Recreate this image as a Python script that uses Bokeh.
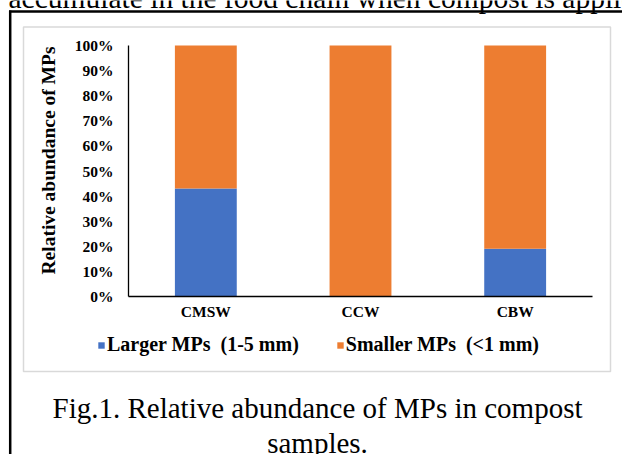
import math
from bokeh.plotting import figure
from bokeh.models import (Label, Legend, LegendItem, Range1d, LinearScale,
                          ColumnDataSource)
from bokeh.core.properties import value
from bokeh.embed import file_html
from bokeh.resources import INLINE

# ---- data ----
categories = ["CMSW", "CCW", "CBW"]
larger = [0.43, 0.0, 0.19]
smaller = [0.57, 1.0, 0.81]
y_ticks = [0, 0.1, 0.2, 0.3, 0.4, 0.5, 0.6, 0.7, 0.8, 0.9, 1.0]
y_tick_labels = ["0%", "10%", "20%", "30%", "40%", "50%", "60%", "70%", "80%", "90%", "100%"]
series_labels = ["Larger MPs  (1-5 mm)", "Smaller MPs  (<1 mm)"]
colors = ["#4472C4", "#ED7D31"]

y_title = "Relative abundance of MPs"
page_text = "accumulate in the food chain when compost is applied"
caption_1 = "Fig.1. Relative abundance of MPs in compost"
caption_2 = "samples."

# ---- page geometry (pixels from the top-left corner) ----
W, H = 622, 454
PLOT_L, PLOT_R, PLOT_T, PLOT_B = 128, 592, 45, 296
SERIF = "Liberation Serif"
MID = 0.3375  # distance (in em) from the "middle" anchor down to the baseline

# page figure: data units are page pixels, y downwards
p = figure(width=W, height=H, x_range=Range1d(0, W), y_range=Range1d(H, 0),
           output_backend="svg", toolbar_location=None, title=None,
           x_axis_location=None, y_axis_location=None, min_border=0)
p.xgrid.visible = False
p.ygrid.visible = False
p.outline_line_color = None
p.background_fill_color = "white"
p.border_fill_color = "white"

# document frame and chart box
p.segment(x0=[9.7], y0=[10], x1=[9.7], y1=[H], line_color="black", line_width=2.5)
p.segment(x0=[8.5], y0=[11], x1=[W], y1=[11], line_color="black", line_width=2.5)
p.quad(left=[23], right=[610], top=[26.5], bottom=[371], fill_alpha=0,
       line_color="#D9D9D9", line_width=1.5)

# chart coordinates: category slots [0, n] x value [0, 1] mapped into the plot area
n = len(categories)
xy = p.subplot(x_source=Range1d(0, n), y_source=Range1d(0, 1),
               x_scale=LinearScale(), y_scale=LinearScale(),
               x_target=Range1d(PLOT_L, PLOT_R), y_target=Range1d(PLOT_B, PLOT_T))

slot = [i + 0.5 for i in range(n)]
stack_top = [a + b for a, b in zip(larger, smaller)]
src = ColumnDataSource(dict(x=slot, cat=categories, larger=larger, top2=stack_top,
                            zero=[0] * n))
r_large = xy.vbar(x="x", bottom="zero", top="larger", width=0.4, source=src,
                  fill_color=colors[0], line_color=None)
r_small = xy.vbar(x="x", bottom="larger", top="top2", width=0.4, source=src,
                  fill_color=colors[1], line_color=None)

# axes
xy.segment(x0=[0], y0=[0], x1=[0], y1=[1], line_color="black", line_width=1.3)
xy.segment(x0=[0], y0=[0], x1=[n], y1=[0], line_color="black", line_width=1.3)
xy.text(x=[0] * len(y_ticks), y=y_ticks, text=y_tick_labels, x_offset=-15,
        text_align="right", text_baseline="middle", text_font=value(SERIF),
        text_font_style="bold", text_font_size="15.5px", text_color="black")
xy.text(x="x", y="zero", text="cat", source=src, y_offset=15,
        text_align="center", text_baseline="middle", text_font=value(SERIF),
        text_font_style="bold", text_font_size="15.5px", text_color="black")

# y axis title
p.add_layout(Label(x=48, y=160, text=y_title, angle=math.pi / 2,
                   text_align="center", text_baseline="middle",
                   text_font=SERIF, text_font_style="bold",
                   text_font_size="19.5px", text_color="black"))

# legend
legend = Legend(items=[LegendItem(label=series_labels[0], renderers=[r_large]),
                       LegendItem(label=series_labels[1], renderers=[r_small])],
                orientation="horizontal", location=(97, H - 356),
                glyph_width=8, glyph_height=8, label_standoff=2, spacing=37,
                padding=0, margin=0, border_line_color=None,
                background_fill_alpha=0,
                label_text_font=SERIF, label_text_font_style="bold",
                label_text_font_size="20px", label_text_color="black")
p.add_layout(legend, "center")

# surrounding document text
p.add_layout(Label(x=8, y=7 - MID * 29, text=page_text, text_align="left",
                   text_baseline="middle", text_font=SERIF,
                   text_font_size="29.5px", text_color="black"))
p.add_layout(Label(x=317, y=417 - MID * 29, text=caption_1, text_align="center",
                   text_baseline="middle", text_font=SERIF,
                   text_font_size="29px", text_color="black"))
p.add_layout(Label(x=317, y=452 - MID * 29, text=caption_2, text_align="center",
                   text_baseline="middle", text_font=SERIF,
                   text_font_size="29px", text_color="black"))

open("out.html", "w").write(file_html(p, INLINE))
